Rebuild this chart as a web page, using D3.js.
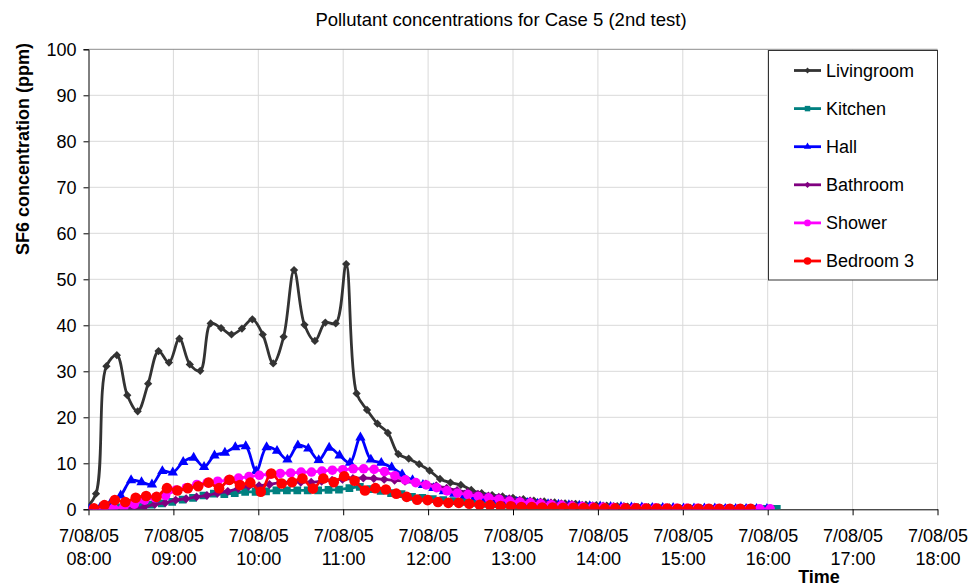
<!DOCTYPE html>
<html>
<head>
<meta charset="utf-8">
<script src="https://cdn.jsdelivr.net/npm/d3@7"></script>
<style>
  body { margin: 0; background: #fff; }
  svg { font-family: "Liberation Sans", Arial, sans-serif; }
</style>
</head>
<body>
<div id="chart"></div>
<script>
// rooms are logged in turn, one reading per room every 442 s
const day = "2005-08-07";
const sampleStep = 442;
const seriesNames = ["Livingroom", "Kitchen", "Hall", "Bathroom", "Shower", "Bedroom 3"];
const seriesStart = ["07:57:56", "08:00:13", "08:00:38", "08:02:41", "08:02:54", "08:03:53"];

// SF6 (ppm)
const livingroom = [0.2, 3.4, 31.1, 33.5, 24.8, 21.3, 27.3, 34.4, 31.9, 37.1, 31.5, 30.1, 40.4, 39.4, 38.0, 39.3,
  41.3, 38.0, 31.7, 37.5, 52.0, 40.1, 36.6, 40.6, 40.4, 53.3, 25.2, 21.6, 18.6, 16.6, 12.0, 11.0, 9.8, 8.4, 6.6,
  5.8, 5.3, 4.2, 3.5, 3.1, 2.8, 2.5, 2.2, 1.9, 1.7, 1.5, 1.3, 1.2, 1.0, 0.9, 0.8, 0.7, 0.6, 0.5, 0.5, 0.4, 0.4,
  0.3, 0.3, 0.3, 0.2, 0.2, 0.2, 0.2, 0.1, 0.1, 0.1];
const kitchen = [0.0, 0.1, 0.2, 0.4, 0.6, 0.8, 1.0, 1.3, 1.6, 2.1, 2.5, 3.0, 3.4, 3.3, 3.5, 3.8, 3.8, 3.9, 4.1,
  4.1, 4.1, 4.1, 4.1, 4.2, 4.3, 4.6, 4.9, 4.4, 4.0, 3.5, 3.3, 2.7, 2.5, 2.2, 2.0, 1.8, 1.6, 1.4, 1.2, 1.1, 1.0,
  0.9, 0.8, 0.7, 0.6, 0.5, 0.5, 0.4, 0.4, 0.3, 0.3, 0.3, 0.2, 0.2, 0.2, 0.2, 0.1, 0.1, 0.1, 0.1, 0.1, 0.1, 0.1,
  0.1, 0.1, 0.1, 0.1];
const hall = [0.0, 0.3, 1.2, 3.0, 6.3, 5.9, 5.4, 8.3, 8.0, 10.3, 11.2, 9.2, 11.7, 12.3, 13.5, 13.7, 8.3, 13.5,
  12.7, 10.8, 13.9, 13.2, 10.7, 13.4, 11.7, 10.1, 15.6, 10.8, 10.1, 9.1, 7.6, 6.3, 5.3, 4.6, 3.9, 3.4, 3.0, 2.6,
  2.3, 2.0, 1.8, 1.6, 1.4, 1.2, 1.1, 1.0, 0.9, 0.8, 0.7, 0.6, 0.5, 0.5, 0.4, 0.4, 0.3, 0.3, 0.3, 0.2, 0.2, 0.2,
  0.2, 0.1, 0.1, 0.1, 0.1, 0.1];
const bathroom = [0.0, 0.0, 0.1, 0.1, 0.2, 0.5, 1.1, 1.4, 2.0, 2.3, 2.7, 3.0, 3.5, 3.9, 4.5, 5.0, 5.1, 5.4, 5.8,
  5.9, 5.9, 5.9, 6.1, 6.3, 6.5, 6.7, 6.8, 6.7, 6.5, 6.3, 6.1, 5.8, 5.5, 5.1, 4.6, 4.1, 3.7, 3.3, 2.9, 2.6, 2.3,
  2.0, 1.8, 1.6, 1.4, 1.2, 1.1, 0.9, 0.8, 0.7, 0.6, 0.6, 0.5, 0.4, 0.4, 0.3, 0.3, 0.3, 0.2, 0.2, 0.2, 0.2, 0.1,
  0.1, 0.1, 0.1];
const shower = [0.0, 0.0, 0.2, 0.5, 1.1, 2.0, 2.5, 3.0, 4.2, 4.7, 5.4, 5.8, 6.1, 6.3, 6.8, 7.1, 7.4, 7.6, 7.8,
  7.9, 8.1, 8.1, 8.3, 8.5, 8.6, 8.8, 8.8, 8.7, 8.2, 7.3, 6.4, 5.8, 5.3, 4.7, 4.0, 3.5, 3.2, 2.8, 2.5, 2.2, 1.8,
  1.6, 1.4, 1.2, 1.0, 0.85, 0.7, 0.6, 0.5, 0.45, 0.4, 0.35, 0.3, 0.3, 0.25, 0.2, 0.2, 0.2, 0.2, 0.15, 0.15, 0.1,
  0.1, 0.1, 0.1, 0.1];
const bedroom3 = [0.2, 0.9, 2.0, 1.6, 2.5, 2.9, 2.7, 4.6, 4.1, 4.6, 5.0, 5.8, 4.6, 6.4, 5.3, 5.8, 3.8, 7.8, 5.6,
  5.9, 6.7, 4.5, 6.7, 5.9, 7.2, 6.2, 4.1, 4.6, 4.3, 3.4, 2.7, 2.1, 2.0, 1.6, 1.4, 1.4, 1.2, 1.0, 0.9, 0.7, 0.65,
  0.5, 0.5, 0.4, 0.4, 0.35, 0.35, 0.3, 0.25, 0.2, 0.2, 0.2, 0.2, 0.15, 0.15, 0.15, 0.1, 0.1, 0.1, 0.1, 0.1, 0.1,
  0.1, 0.1];

const yTicks = [0, 10, 20, 30, 40, 50, 60, 70, 80, 90, 100];
const xFrom = "08:00:00", xTo = "18:00:00";

// looks
const colors = ["#333333", "#008080", "#0000ff", "#800080", "#ff00ff", "#ff0000"];
const markers = ["diamond", "square", "triangle", "diamond", "circle", "circle"];
const markerSize = [34, 60, 46, 40, 72, 88];

const width = 975, height = 588;
const plot = {left: 88.5, right: 937.5, top: 49.3, bottom: 509.3};

const parse = d3.timeParse("%Y-%m-%d %H:%M:%S");
const values = [livingroom, kitchen, hall, bathroom, shower, bedroom3];
const series = seriesNames.map((name, k) => {
  const t0 = parse(day + " " + seriesStart[k]).getTime();
  return {
    name: name,
    points: values[k].map((v, i) => ({t: new Date(t0 + i * sampleStep * 1000), v: v}))
  };
});

const x = d3.scaleTime()
  .domain([parse(day + " " + xFrom), parse(day + " " + xTo)])
  .range([plot.left, plot.right]);
const y = d3.scaleLinear().domain([0, 100]).range([plot.bottom, plot.top]);

const svg = d3.select("#chart").append("svg")
  .attr("width", width)
  .attr("height", height);

svg.append("clipPath").attr("id", "clip")
  .append("rect")
  .attr("x", plot.left).attr("y", plot.top - 6)
  .attr("width", plot.right - plot.left).attr("height", plot.bottom - plot.top + 6);

// gridlines
const hours = x.ticks(d3.timeHour.every(1));
svg.append("g").selectAll("line").data(hours.slice(1)).enter().append("line")
  .attr("x1", d => x(d)).attr("x2", d => x(d))
  .attr("y1", plot.top).attr("y2", plot.bottom)
  .attr("stroke", "#d9d9d9").attr("stroke-width", 1);
svg.append("g").selectAll("line").data(yTicks.slice(1)).enter().append("line")
  .attr("x1", plot.left).attr("x2", plot.right)
  .attr("y1", d => y(d)).attr("y2", d => y(d))
  .attr("stroke", d => d === 100 ? "#8c8c8c" : "#d9d9d9").attr("stroke-width", 1);

// axes
const yAxis = svg.append("g")
  .attr("transform", "translate(" + plot.left + ",0)")
  .call(d3.axisLeft(y).tickValues(yTicks).tickSize(5).tickPadding(7));
yAxis.selectAll("text").attr("font-size", 18).attr("font-family", "Liberation Sans, Arial").attr("fill", "#000");
yAxis.selectAll("line, path").attr("stroke", "#000");

const fmtDate = d3.timeFormat("%-d/%m/%y");
const fmtTime = d3.timeFormat("%H:%M");
const xAxis = svg.append("g")
  .attr("transform", "translate(0," + plot.bottom + ")")
  .call(d3.axisBottom(x).tickValues(hours).tickSize(6).tickSizeOuter(0).tickFormat(""));
xAxis.selectAll("line, path").attr("stroke", "#000");
xAxis.selectAll(".tick").append("text")
  .attr("fill", "#000").attr("font-size", 18).attr("font-family", "Liberation Sans, Arial")
  .attr("text-anchor", "middle")
  .each(function(d) {
    const t = d3.select(this);
    t.append("tspan").attr("x", 0).attr("y", 33).text(fmtDate(d));
    t.append("tspan").attr("x", 0).attr("y", 56).text(fmtTime(d));
  });

// series
const symbolPath = (kind, size) => {
  if (kind === "diamond") return d3.symbol(d3.symbolSquare, size)();
  if (kind === "square") return d3.symbol(d3.symbolSquare, size)();
  if (kind === "triangle") return d3.symbol(d3.symbolTriangle, size)();
  return d3.symbol(d3.symbolCircle, size)();
};
const line = d3.line()
  .x(d => x(d.t)).y(d => y(d.v))
  .curve(d3.curveCatmullRom.alpha(0.5));

const chart = svg.append("g").attr("clip-path", "url(#clip)");
series.forEach((s, k) => {
  const g = chart.append("g");
  g.append("path")
    .attr("d", line(s.points))
    .attr("fill", "none")
    .attr("stroke", colors[k])
    .attr("stroke-width", 2.8);
  g.selectAll("path.m").data(s.points).enter().append("path")
    .attr("class", "m")
    .attr("d", symbolPath(markers[k], markerSize[k]))
    .attr("transform", d => "translate(" + x(d.t) + "," + y(d.v) + ")" + (markers[k] === "diamond" ? " rotate(45)" : ""))
    .attr("fill", colors[k]);
});

// legend
const legend = svg.append("g");
legend.append("rect")
  .attr("x", 768.5).attr("y", 50.5).attr("width", 169).attr("height", 229.5)
  .attr("fill", "#fff").attr("stroke", "#333").attr("stroke-width", 1);
seriesNames.forEach((name, k) => {
  const ly = 70.5 + k * 38.1;
  legend.append("line")
    .attr("x1", 794).attr("x2", 821).attr("y1", ly).attr("y2", ly)
    .attr("stroke", colors[k]).attr("stroke-width", 2.8);
  legend.append("path")
    .attr("d", symbolPath(markers[k], markerSize[k] * 0.5))
    .attr("transform", "translate(807.5," + ly + ")" + (markers[k] === "diamond" ? " rotate(45)" : ""))
    .attr("fill", colors[k]);
  legend.append("text")
    .attr("x", 826).attr("y", ly).attr("dy", "0.36em")
    .attr("font-size", 18).text(name);
});

// titles
svg.append("text")
  .attr("x", 501).attr("y", 26)
  .attr("text-anchor", "middle").attr("font-size", 18.5)
  .text("Pollutant concentrations for Case 5 (2nd test)");
svg.append("text")
  .attr("transform", "translate(29,149) rotate(-90)")
  .attr("text-anchor", "middle").attr("font-size", 18).attr("font-weight", "bold")
  .text("SF6 concentration (ppm)");
svg.append("text")
  .attr("x", 819).attr("y", 583)
  .attr("text-anchor", "middle").attr("font-size", 18).attr("font-weight", "bold")
  .text("Time");
</script>
</body>
</html>
